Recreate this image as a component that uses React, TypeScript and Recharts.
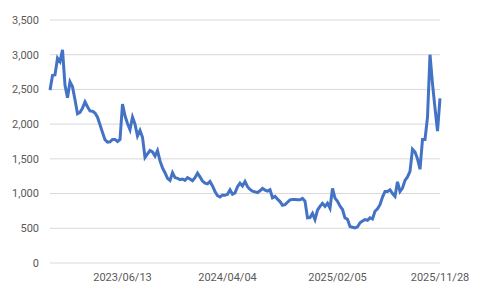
import React from "react";
import { LineChart, Line, XAxis, YAxis, CartesianGrid } from "recharts";

// closing prices, roughly evenly spaced in time
const prices = [
  2490, 2700, 2710, 2950, 2900, 3070, 2560, 2380, 2610, 2540,
  2350, 2150, 2170, 2230, 2320, 2250, 2190, 2185, 2160, 2100,
  1990, 1880, 1775, 1740, 1745, 1780, 1780, 1750, 1780, 2290,
  2120, 2010, 1920, 2100, 2000, 1830, 1910, 1810, 1520, 1570,
  1620, 1600, 1540, 1620, 1470, 1370, 1300, 1220, 1190, 1300,
  1230, 1220, 1200, 1210, 1190, 1230, 1210, 1185, 1230, 1295,
  1240, 1180, 1150, 1140, 1175, 1110, 1030, 970, 950, 980,
  975, 990, 1055, 990, 1010, 1100, 1150, 1110, 1175, 1100,
  1060, 1035, 1025, 1015, 1040, 1075, 1050, 1035, 1055, 940,
  960, 920, 885, 830, 840, 875, 910, 915, 915, 910,
  910, 930, 890, 650, 655, 715, 625, 760, 815, 860,
  815, 860, 790, 1075, 935, 890, 820, 770, 650, 630,
  525, 515, 505, 520, 580, 605, 625, 615, 650, 635,
  745, 780, 840, 950, 1030, 1030, 1055, 1000, 960, 1170,
  1030, 1080, 1190, 1240, 1320, 1640, 1600, 1500, 1350, 1780,
  1780, 2100, 3000, 2580, 2230, 1900, 2370,
];

const tickIdx = [29, 71, 115, 156];
const tickLabels = ["2023/06/13", "2024/04/04", "2025/02/05", "2025/11/28"];
const yTicks = [0, 500, 1000, 1500, 2000, 2500, 3000, 3500];

const data = prices.map((v, i) => ({ i, v }));

const tickStyle = { fill: "#595959", fontSize: 11, fontFamily: "Roboto, sans-serif" };

export default function App() {
  return (
    <div style={{ position: "absolute", left: 0, top: 0, background: "#fff" }}>
      <LineChart
        width={485}
        height={300}
        data={data}
        margin={{ top: 20, right: 45, left: 0, bottom: 7 }}
      >
        <CartesianGrid vertical={false} stroke="#d9d9d9" strokeWidth={1} />
        <XAxis
          dataKey="i"
          type="number"
          domain={[0, prices.length - 1]}
          ticks={tickIdx}
          interval={0}
          tickFormatter={(v: number) => tickLabels[tickIdx.indexOf(v)] ?? ""}
          tick={tickStyle}
          tickLine={false}
          axisLine={false}
          tickSize={0}
          tickMargin={10}
          height={30}
        />
        <YAxis
          domain={[0, 3500]}
          ticks={yTicks}
          interval={0}
          tickFormatter={(v: number) => v.toLocaleString("en-US")}
          tick={tickStyle}
          tickLine={false}
          axisLine={false}
          tickSize={0}
          tickMargin={11}
          width={50}
        />
        <Line
          type="linear"
          dataKey="v"
          stroke="#4472c4"
          strokeWidth={3}
          dot={false}
          isAnimationActive={false}
        />
      </LineChart>
    </div>
  );
}
